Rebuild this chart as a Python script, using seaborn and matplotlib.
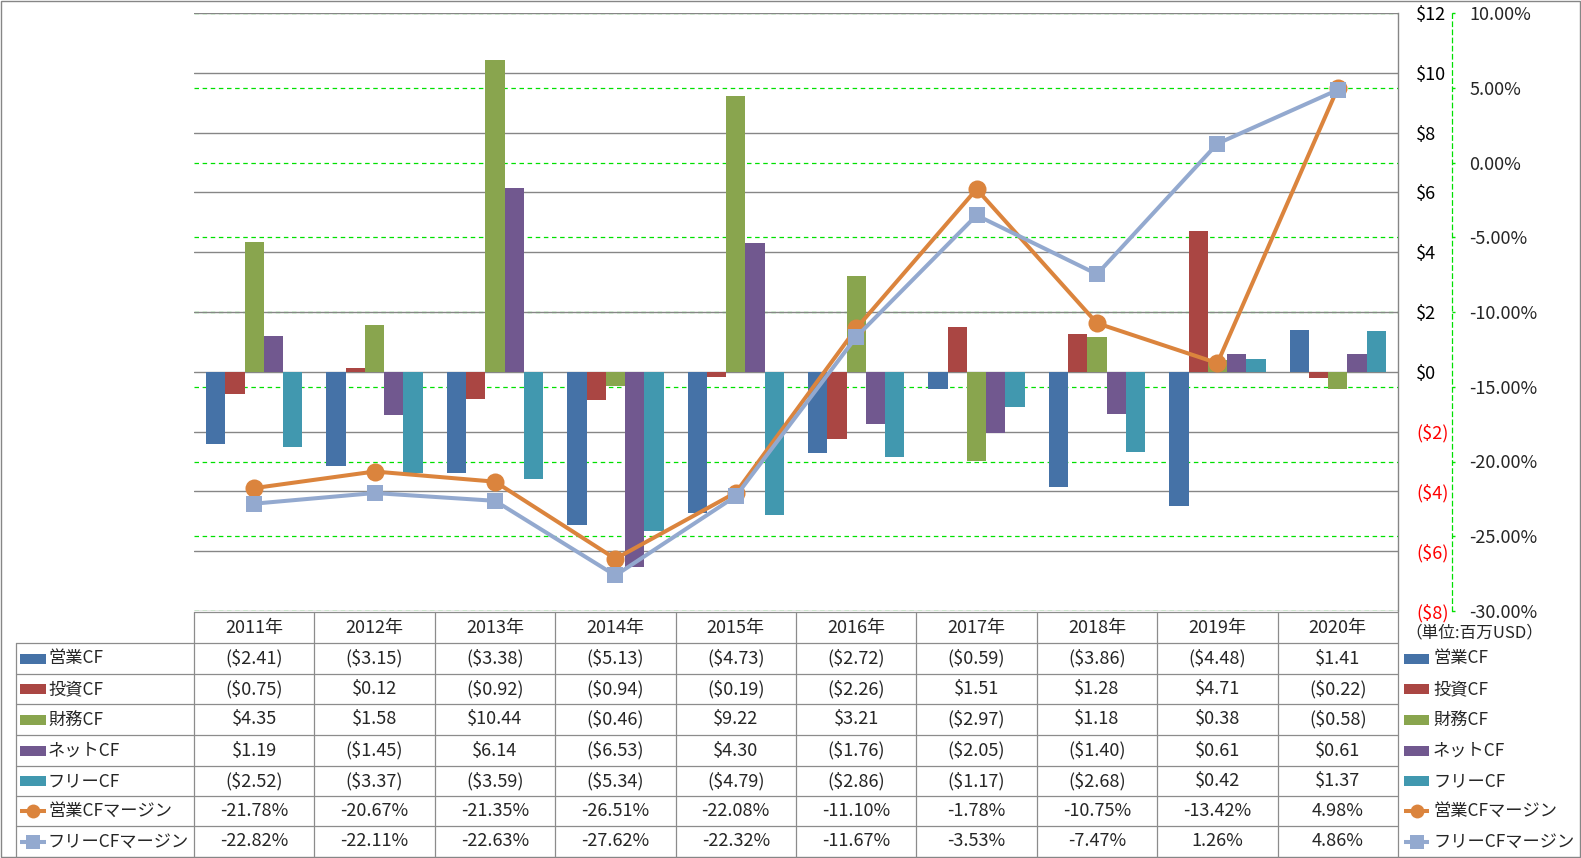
import numpy as np
import pandas as pd
import seaborn as sns
import matplotlib.pyplot as plt
from matplotlib.patches import Rectangle
from matplotlib.transforms import blended_transform_factory

# データ (単位: 百万USD / %)
years = ['2011年', '2012年', '2013年', '2014年', '2015年',
         '2016年', '2017年', '2018年', '2019年', '2020年']
bar_names = ['営業CF', '投資CF', '財務CF', 'ネットCF', 'フリーCF']
operating_cf = [-2.41, -3.15, -3.38, -5.13, -4.73, -2.72, -0.59, -3.86, -4.48, 1.41]
investing_cf = [-0.75, 0.12, -0.92, -0.94, -0.19, -2.26, 1.51, 1.28, 4.71, -0.22]
financing_cf = [4.35, 1.58, 10.44, -0.46, 9.22, 3.21, -2.97, 1.18, 0.38, -0.58]
net_cf = [1.19, -1.45, 6.14, -6.53, 4.30, -1.76, -2.05, -1.40, 0.61, 0.61]
free_cf = [-2.52, -3.37, -3.59, -5.34, -4.79, -2.86, -1.17, -2.68, 0.42, 1.37]
line_names = ['営業CFマージン', 'フリーCFマージン']
op_margin = [-21.78, -20.67, -21.35, -26.51, -22.08, -11.10, -1.78, -10.75, -13.42, 4.98]
free_margin = [-22.82, -22.11, -22.63, -27.62, -22.32, -11.67, -3.53, -7.47, 1.26, 4.86]
money_ticks = list(range(-8, 13, 2))
pct_ticks = list(range(-30, 11, 5))
unit_label = '（単位:百万USD）'

bar_values = [operating_cf, investing_cf, financing_cf, net_cf, free_cf]
line_values = [op_margin, free_margin]

bar_colors = ['#4572A7', '#AA4643', '#89A54E', '#71588F', '#4198AF']
line_colors = ['#DB843D', '#93A9CF']
line_markers = ['o', 's']
grid_gray = '#868686'
green = '#00E000'
W, H = 1581, 858

sns.set_theme(style='white')
plt.rcParams['font.family'] = ['Noto Sans CJK JP', 'DejaVu Sans']
FS = 13
FS_LABEL = 12.4


def money(v, dec=2):
    return f'${v:.{dec}f}' if v >= 0 else f'(${-v:.{dec}f})'


def pct(v):
    return f'{v:.2f}%'


df = pd.DataFrame({
    '年': years * len(bar_names),
    '系列': np.repeat(bar_names, len(years)),
    '値': np.concatenate(bar_values),
})

fig = plt.figure(figsize=(W / 100, H / 100), dpi=100)
ax = fig.add_axes([194 / W, 1 - 611 / H, (1398 - 194) / W, (611 - 13) / H])

sns.barplot(data=df, x='年', y='値', hue='系列', hue_order=bar_names,
            palette=bar_colors, saturation=1, width=0.8, errorbar=None,
            legend=False, linewidth=0, ax=ax)
ax.set_xlim(-0.5, len(years) - 0.5)
ax.set_ylim(-8, 12)
ax.set_xlabel('')
ax.set_ylabel('')
ax.set_xticks([])
ax.yaxis.grid(True, color=grid_gray, lw=1.0, zorder=0.5)
ax.set_axisbelow(True)
for s in ['left', 'top', 'bottom']:
    ax.spines[s].set_visible(False)
ax.spines['right'].set_color(grid_gray)
ax.spines['right'].set_linewidth(1.0)

# 第2軸 (マージン)
ax2 = ax.twinx()
ax2.set_ylim(-30, 10)
for name, vals, c, m in zip(line_names, line_values, line_colors, line_markers):
    sns.lineplot(x=np.arange(len(years)), y=vals, color=c, lw=2.9, marker=m,
                 markersize=13 if m == 'o' else 12, markeredgecolor=c,
                 markeredgewidth=0, ax=ax2)
ax2.set_xlim(-0.5, len(years) - 0.5)
ax2.set_yticks(pct_ticks, labels=[pct(t) for t in pct_ticks])
ax2.tick_params(axis='y', length=2.5, width=1, color=green, pad=10, labelsize=FS)
for t, lab in zip(pct_ticks, ax2.get_yticklabels()):
    lab.set_color('red' if t < 0 else 'black')
for s in ['left', 'top', 'bottom']:
    ax2.spines[s].set_visible(False)
ax2.spines['right'].set_position(('outward', 54 * 0.72))
ax2.spines['right'].set_color(green)
ax2.spines['right'].set_linestyle((0, (3.6, 2.9)))
ax2.spines['right'].set_linewidth(0.9)
ax2.set_ylabel('')

# 主軸の目盛りは右側 (twinx の後で設定)
ax.set_yticks(money_ticks, labels=[money(t, 0) for t in money_ticks])
ax.yaxis.tick_right()
ax.tick_params(axis='y', left=False, right=False, labelleft=False,
               labelright=True, length=0, pad=13, labelsize=FS)
for t, lab in zip(money_ticks, ax.get_yticklabels()):
    lab.set_color('red' if t < 0 else 'black')

# 第2軸の補助線 (棒の後ろ)
tr = blended_transform_factory(ax.transAxes, ax2.transData)
for t in pct_ticks:
    ax.plot([0, 1], [t, t], transform=tr, color=green, lw=0.9,
            ls=(0, (3.6, 2.9)), zorder=0.4)

# データテーブル
ov = fig.add_axes([0, 0, 1, 1])
ov.set_xlim(0, W)
ov.set_ylim(H, 0)
ov.axis('off')

col_edges = np.linspace(194, 1398, len(years) + 1)
col_mid = (col_edges[:-1] + col_edges[1:]) / 2
row_edges = [643, 674, 704, 735, 766, 796, 826, 857]
row_mid = [(a + b) / 2 for a, b in zip(row_edges[:-1], row_edges[1:])]
tl = dict(color='#8C8C8C', lw=0.9)

ov.plot([194, 1398], [612, 612], **tl)
for y in row_edges[:-1]:
    ov.plot([16, 1398], [y, y], **tl)
for x in col_edges:
    ov.plot([x, x], [612, 857], **tl)
ov.plot([16, 16], [643, 857], **tl)
ov.add_patch(Rectangle((0.5, 0.5), W - 1.5, H - 1.5, fill=False,
                       ec=grid_gray, lw=1.0))

for x, yr in zip(col_mid, years):
    ov.text(x, 627.5, yr, ha='center', va='center', fontsize=FS)

rows = [[money(v) for v in vals] for vals in bar_values] + \
       [[pct(v) for v in vals] for vals in line_values]
for y, row in zip(row_mid, rows):
    for x, s in zip(col_mid, row):
        ov.text(x, y, s, ha='center', va='center', fontsize=FS)


def draw_key(x0, x1, y, i):
    if i < len(bar_names):
        ov.add_patch(Rectangle((x0, y - 5), x1 - x0, 10, color=bar_colors[i], lw=0))
    else:
        j = i - len(bar_names)
        ov.plot([x0, x1], [y, y], color=line_colors[j], lw=2.9,
                solid_capstyle='butt')
        ov.plot([(x0 + x1) / 2], [y], marker=line_markers[j], ms=10,
                color=line_colors[j], mew=0)


all_names = bar_names + line_names
for i, (y, name) in enumerate(zip(row_mid, all_names)):
    draw_key(20, 46, y, i)
    ov.text(48, y, name, ha='left', va='center', fontsize=FS_LABEL)
    draw_key(1404, 1429, y, i)
    ov.text(1433, y, name, ha='left', va='center', fontsize=FS_LABEL)

ov.text(1474, 633, unit_label, ha='center', va='center', fontsize=12)

fig.savefig('out.png', dpi=100)
